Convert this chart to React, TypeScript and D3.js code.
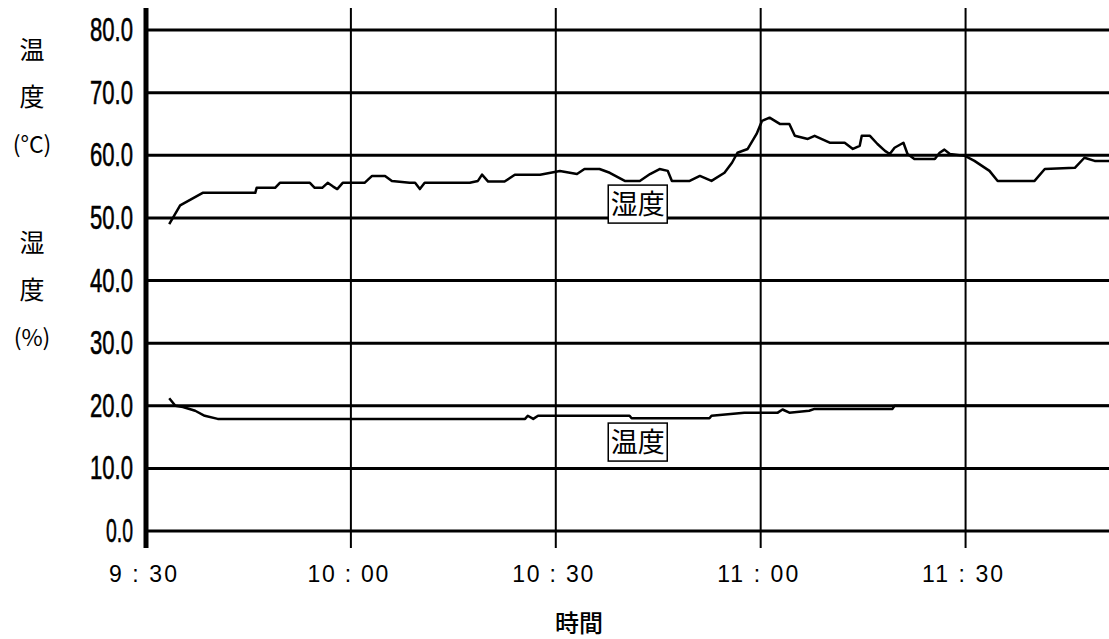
import React, { Component } from "react";
import * as d3 from "d3";

// minutes after 9:30
const humidityTimes = [
  3.4, 5.0, 8.3, 16.0, 16.2, 18.9, 19.6, 24.0, 24.7, 25.8, 26.6, 27.4, 28.0, 28.8,
  32.0, 33.1, 35.0, 36.0, 38.6, 39.4, 40.1, 40.8, 47.4, 48.6, 49.2, 50.1, 52.5,
  54.0, 57.7, 60.6, 63.1, 64.2, 66.4, 67.9, 70.1, 72.3, 73.8, 75.2, 76.4, 77.0,
  79.6, 81.1, 82.8, 84.7, 85.8, 86.6, 88.1, 89.4, 90.2, 91.3, 92.8, 94.2, 95.0,
  96.9, 97.9, 100.1, 102.3, 103.5, 104.5, 104.8, 106.0, 107.1, 108.2, 108.9,
  109.6, 110.9, 111.5, 112.5, 115.5, 116.2, 116.9, 117.7, 119.9, 121.3, 123.5,
  124.7, 130.1, 131.6, 136.0, 137.4, 138.9, 141.0,
];
const humidityValues = [
  49.0, 52.0, 54.0, 54.0, 54.8, 54.8, 55.6, 55.6, 54.8, 54.8, 55.6, 55.0, 54.6, 55.6,
  55.6, 56.7, 56.7, 55.9, 55.6, 55.6, 54.6, 55.6, 55.6, 55.9, 56.9, 55.8, 55.8,
  56.9, 56.9, 57.5, 57.0, 57.8, 57.8, 57.2, 55.9, 55.9, 57.0, 57.8, 57.5, 55.9,
  55.9, 56.7, 55.9, 57.2, 58.8, 60.4, 61.0, 63.4, 65.5, 66.0, 65.0, 65.0, 63.1,
  62.6, 63.1, 62.0, 62.0, 61.0, 61.5, 63.1, 63.1, 61.8, 60.7, 60.2,
  61.2, 62.0, 60.2, 59.4, 59.4, 60.4, 60.9, 60.2, 59.9, 59.1, 57.5,
  55.9, 55.9, 57.8, 58.0, 59.6, 59.1, 59.1,
];

const temperatureTimes = [
  3.4, 4.3, 5.4, 7.2, 8.6, 10.5, 55.5, 55.9, 56.7, 57.4, 70.8, 71.1, 82.5, 82.8,
  87.6, 92.5, 93.2, 94.2, 97.1, 97.9, 109.3, 109.6, 141.0,
];
const temperatureValues = [
  21.2, 20.0, 19.8, 19.2, 18.4, 17.9, 17.9, 18.4, 17.9, 18.4, 18.4, 18.0, 18.0, 18.4,
  18.9, 18.9, 19.4, 18.9, 19.2, 19.5, 19.5, 20.0, 20.0,
];

const xTicks = [0, 30, 60, 90, 120];
const xTickLabels = ["9 : 30", "10 : 00", "10 : 30", "11 : 00", "11 : 30"];
const yTicks = [0, 10, 20, 30, 40, 50, 60, 70, 80];

const seriesLabels = [
  { name: "湿度", minute: 72, value: 52.2 },
  { name: "温度", minute: 72, value: 14.2 },
];

const tempTitle = ["温", "度", "(°C)"];
const humTitle = ["湿", "度", "(%)"];

export default class App extends Component {
  chartRef: any;
  componentDidMount() {
    document.body.style.margin = "0";
    const W = 1109;
    const H = 639;
    const chart = d3.select(this.chartRef).attr("width", W).attr("height", H);
    chart.selectAll("*").remove();

    const x = d3.scaleLinear().domain([0, 141]).range([146, 1109]);
    const y = d3.scaleLinear().domain([0, 80]).range([531, 30]);

    chart.append("rect").attr("width", W).attr("height", H).attr("fill", "#fff");

    // 横グリッド
    chart
      .append("g")
      .selectAll("line")
      .data(yTicks)
      .enter()
      .append("line")
      .attr("x1", x(0))
      .attr("x2", W)
      .attr("y1", (d) => y(d))
      .attr("y2", (d) => y(d))
      .attr("stroke", "#000")
      .attr("stroke-width", 3);

    // 縦グリッド
    chart
      .append("g")
      .selectAll("line")
      .data(xTicks.slice(1))
      .enter()
      .append("line")
      .attr("x1", (d) => x(d))
      .attr("x2", (d) => x(d))
      .attr("y1", 8)
      .attr("y2", 548)
      .attr("stroke", "#000")
      .attr("stroke-width", 2);

    // y軸
    chart
      .append("line")
      .attr("x1", x(0))
      .attr("x2", x(0))
      .attr("y1", 8)
      .attr("y2", 548)
      .attr("stroke", "#000")
      .attr("stroke-width", 5);

    // y目盛ラベル
    chart
      .append("g")
      .selectAll("text")
      .data(yTicks)
      .enter()
      .append("text")
      .attr("x", 133)
      .attr("y", (d) => y(d) + 11)
      .attr("text-anchor", "end")
      .attr("font-family", "Liberation Sans")
      .attr("font-size", 34)
      .attr("stroke", "#000")
      .attr("stroke-width", 0.6)
      .attr("textLength", (d) => String(d).length * 16 + 11)
      .attr("lengthAdjust", "spacingAndGlyphs")
      .attr("fill", "#000")
      .text((d) => d.toFixed(1));

    // x目盛ラベル
    chart
      .append("g")
      .selectAll("text")
      .data(xTicks)
      .enter()
      .append("text")
      .attr("x", (d) => x(d) - 3)
      .attr("y", 582)
      .attr("text-anchor", "middle")
      .attr("font-family", "Liberation Sans")
      .attr("font-size", 23)
      .attr("textLength", (d, i) => (xTickLabels[i].length === 6 ? 68 : 81))
      .attr("lengthAdjust", "spacing")
      .attr("fill", "#000")
      .text((d, i) => xTickLabels[i]);

    chart
      .append("text")
      .attr("x", 579)
      .attr("y", 632)
      .attr("text-anchor", "middle")
      .attr("font-family", "Noto Sans CJK JP")
      .attr("font-weight", 500)
      .attr("font-size", 24)
      .text("時間");

    // 縦軸タイトル
    const titles = chart.append("g").attr("font-family", "Noto Sans CJK JP").attr("text-anchor", "middle");
    tempTitle.forEach((t, i) => {
      titles
        .append("text")
        .attr("x", 32)
        .attr("y", 59 + i * 47)
        .attr("font-size", i === 2 ? 23 : 25)
        .text(t);
    });
    humTitle.forEach((t, i) => {
      titles
        .append("text")
        .attr("x", 32)
        .attr("y", 252 + i * 47)
        .attr("font-size", i === 2 ? 23 : 25)
        .text(t);
    });

    // 折れ線
    const line: any = d3
      .line()
      .x((d: any) => x(d[0]))
      .y((d: any) => y(d[1]));
    const series = [
      d3.zip(humidityTimes, humidityValues),
      d3.zip(temperatureTimes, temperatureValues),
    ];
    series.forEach((s) => {
      chart
        .append("path")
        .attr("d", line(s))
        .attr("fill", "none")
        .attr("stroke", "#000")
        .attr("stroke-width", 2.5)
        .attr("stroke-linejoin", "round");
    });

    // 系列ラベル
    seriesLabels.forEach((l) => {
      const cx = x(l.minute);
      const cy = y(l.value);
      chart
        .append("rect")
        .attr("x", cx - 29.5)
        .attr("y", cy - 19)
        .attr("width", 59)
        .attr("height", 38)
        .attr("fill", "#fff")
        .attr("stroke", "#000")
        .attr("stroke-width", 1.5);
      chart
        .append("text")
        .attr("x", cx)
        .attr("y", cy + 10)
        .attr("text-anchor", "middle")
        .attr("font-family", "Noto Sans CJK JP")
        .attr("font-size", 27)
        .text(l.name);
    });
  }
  render() {
    return (
      <div style={{ width: 1109, height: 639 }}>
        <svg ref={(r) => (this.chartRef = r)} style={{ display: "block" }}></svg>
      </div>
    );
  }
}
